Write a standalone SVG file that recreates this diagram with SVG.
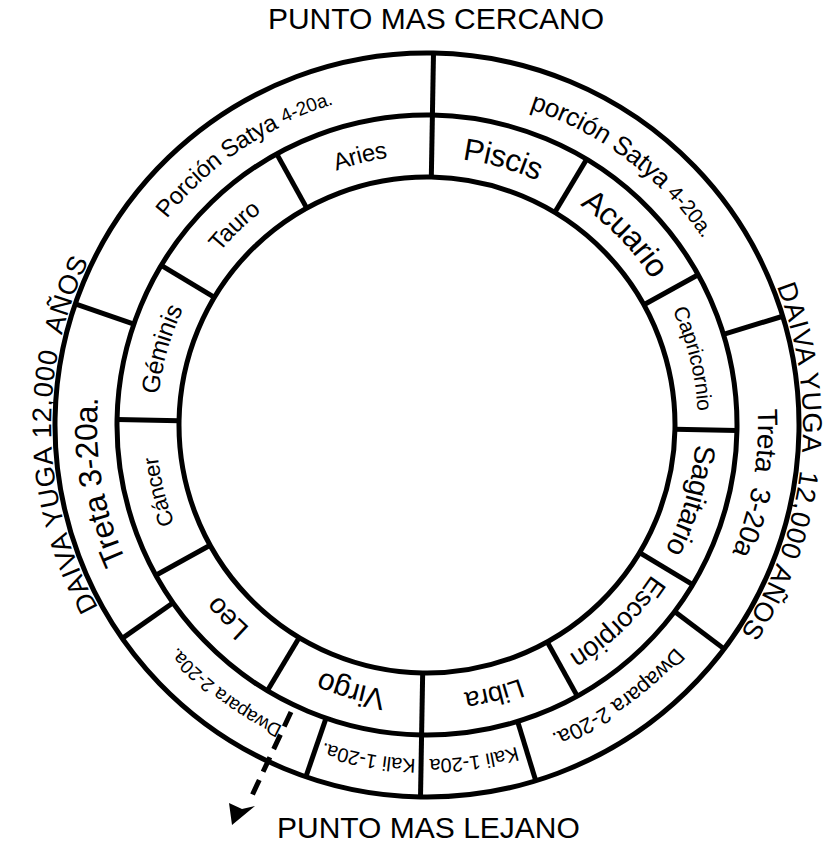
<svg xmlns="http://www.w3.org/2000/svg" width="827" height="845" viewBox="0 0 827 845">
<style>
 .ring{fill:none;stroke:#000;stroke-width:5}
 .dv{stroke:#000;stroke-width:5}
 text{font-family:"Liberation Sans",Arial,sans-serif;fill:#000}
 .lbl{dominant-baseline:central;text-anchor:middle}
</style>
<defs>
 <path id="pz" d="M0,-279 A279,279 0 1,1 0,279 A279,279 0 1,1 0,-279"/>
 <path id="py" d="M0,-341 A341,341 0 1,1 0,341 A341,341 0 1,1 0,-341"/>
 <path id="po" d="M0,-385 A385,385 0 1,1 0,385 A385,385 0 1,1 0,-385"/>
</defs>
<rect width="827" height="845" fill="#fff"/>
<text id="punto-cercano" x="436" y="28.5" font-size="30" text-anchor="middle">PUNTO MAS CERCANO</text>
<text id="punto-lejano" x="277" y="838" font-size="30">PUNTO MAS LEJANO</text>
<g transform="translate(427,425) rotate(1)">
 <g id="wheel">
  <circle class="ring" r="248"/>
  <circle class="ring" r="310"/>
  <circle class="ring" r="372"/>
  <line class="dv" x1="0" y1="-248" x2="0" y2="-372"/>
  <line class="dv" x1="0" y1="-248" x2="0" y2="-310" transform="rotate(30)"/>
  <line class="dv" x1="0" y1="-248" x2="0" y2="-310" transform="rotate(60)"/>
  <line class="dv" x1="0" y1="-248" x2="0" y2="-310" transform="rotate(90)"/>
  <line class="dv" x1="0" y1="-248" x2="0" y2="-310" transform="rotate(120)"/>
  <line class="dv" x1="0" y1="-248" x2="0" y2="-310" transform="rotate(150)"/>
  <line class="dv" x1="0" y1="-248" x2="0" y2="-372" transform="rotate(180)"/>
  <line class="dv" x1="0" y1="-248" x2="0" y2="-310" transform="rotate(210)"/>
  <line class="dv" x1="0" y1="-248" x2="0" y2="-310" transform="rotate(240)"/>
  <line class="dv" x1="0" y1="-248" x2="0" y2="-310" transform="rotate(270)"/>
  <line class="dv" x1="0" y1="-248" x2="0" y2="-310" transform="rotate(300)"/>
  <line class="dv" x1="0" y1="-248" x2="0" y2="-310" transform="rotate(330)"/>
  <line class="dv" x1="0" y1="-310" x2="0" y2="-372" transform="rotate(72)"/>
  <line class="dv" x1="0" y1="-310" x2="0" y2="-372" transform="rotate(126)"/>
  <line class="dv" x1="0" y1="-310" x2="0" y2="-372" transform="rotate(162)"/>
  <line class="dv" x1="0" y1="-310" x2="0" y2="-372" transform="rotate(198)"/>
  <line class="dv" x1="0" y1="-310" x2="0" y2="-372" transform="rotate(234)"/>
  <line class="dv" x1="0" y1="-310" x2="0" y2="-372" transform="rotate(288)"/>
 </g>
 <g id="piscis"><text class="lbl" font-size="31"><textPath href="#pz" startOffset="4.1667%">Piscis</textPath></text></g>
 <g id="acuario"><text class="lbl" font-size="32"><textPath href="#pz" startOffset="12.5%">Acuario</textPath></text></g>
 <g id="capricornio"><text class="lbl" font-size="21"><textPath href="#pz" startOffset="20.833%">Capricornio</textPath></text></g>
 <g id="sagitario"><text class="lbl" font-size="29"><textPath href="#pz" startOffset="29.167%">Sagitario</textPath></text></g>
 <g id="escorpion"><text class="lbl" font-size="27"><textPath href="#pz" startOffset="37.5%">Escorpión</textPath></text></g>
 <g id="libra"><text class="lbl" font-size="27"><textPath href="#pz" startOffset="45.833%">Libra</textPath></text></g>
 <g id="virgo"><text class="lbl" font-size="30"><textPath href="#pz" startOffset="54.167%">Virgo</textPath></text></g>
 <g id="leo"><text class="lbl" font-size="28"><textPath href="#pz" startOffset="62.5%">Leo</textPath></text></g>
 <g id="cancer"><text class="lbl" font-size="22"><textPath href="#pz" startOffset="70.833%">Cáncer</textPath></text></g>
 <g id="geminis"><text class="lbl" font-size="25"><textPath href="#pz" startOffset="79.167%">Géminis</textPath></text></g>
 <g id="tauro"><text class="lbl" font-size="24"><textPath href="#pz" startOffset="87.5%">Tauro</textPath></text></g>
 <g id="aries"><text class="lbl" font-size="24"><textPath href="#pz" startOffset="95.833%">Aries</textPath></text></g>

 <g id="satya-der"><text class="lbl" font-size="26"><textPath href="#py" startOffset="10%">porción Satya <tspan font-size="21">4-20a.</tspan></textPath></text></g>
 <g id="treta-der"><text class="lbl" font-size="28"><textPath href="#py" startOffset="27.5%">Treta&#160; 3-20a</textPath></text></g>
 <g id="dwapara-der"><text class="lbl" font-size="22"><textPath href="#py" startOffset="40%">Dwapara 2-20a.</textPath></text></g>
 <g id="kali-der"><text class="lbl" font-size="20"><textPath href="#py" startOffset="47.5%">Kali 1-20a</textPath></text></g>
 <g id="kali-izq"><text class="lbl" font-size="20"><textPath href="#py" startOffset="52.5%">Kali 1-20a.</textPath></text></g>
 <g id="dwapara-izq"><text class="lbl" font-size="19"><textPath href="#py" startOffset="60%">Dwapara 2-20a.</textPath></text></g>
 <g id="treta-izq"><text class="lbl" font-size="32"><textPath href="#py" startOffset="72%">Treta 3-20a.</textPath></text></g>
 <g id="satya-izq"><text class="lbl" font-size="24"><textPath href="#py" startOffset="90.3%">Porción Satya <tspan font-size="19">4-20a.</tspan></textPath></text></g>

 <g id="daiva-der"><text class="lbl" font-size="27" letter-spacing="1.3"><textPath href="#po" startOffset="26.4%">DAIVA YUGA&#160; 12,000 AÑOS</textPath></text></g>
 <g id="daiva-izq"><text class="lbl" font-size="27" letter-spacing="1.3"><textPath href="#po" startOffset="74.3%">DAIVA YUGA 12,000&#160; AÑOS</textPath></text></g>
</g>
<g id="connectors">
 <line x1="291" y1="712" x2="249" y2="802" stroke="#000" stroke-width="5" stroke-dasharray="16 9"/>
 <polygon points="232,825 229,803 242,809 255,806" fill="#000"/>
</g>
</svg>
